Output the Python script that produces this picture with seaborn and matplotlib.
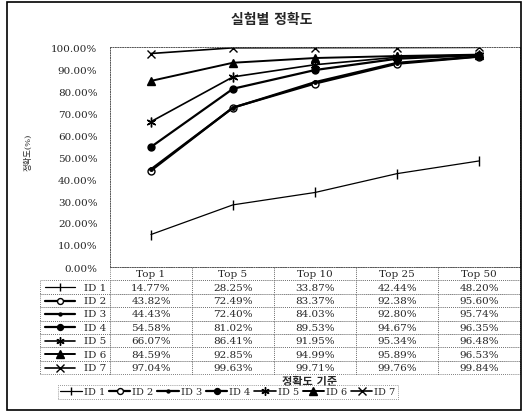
import numpy as np
import pandas as pd
import seaborn as sns
import matplotlib.pyplot as plt
from matplotlib.lines import Line2D
from matplotlib.patches import Rectangle

# chart data
categories = ["Top 1", "Top 5", "Top 10", "Top 25", "Top 50"]
series_ids = ["ID 1", "ID 2", "ID 3", "ID 4", "ID 5", "ID 6", "ID 7"]
id1 = [14.77, 28.25, 33.87, 42.44, 48.20]
id2 = [43.82, 72.49, 83.37, 92.38, 95.60]
id3 = [44.43, 72.40, 84.03, 92.80, 95.74]
id4 = [54.58, 81.02, 89.53, 94.67, 96.35]
id5 = [66.07, 86.41, 91.95, 95.34, 96.48]
id6 = [84.59, 92.85, 94.99, 95.89, 96.53]
id7 = [97.04, 99.63, 99.71, 99.76, 99.84]
values = [id1, id2, id3, id4, id5, id6, id7]

# marker style per series
styles = {
    "ID 1": dict(marker="|", ms=7, mfc="black", lw=0.9),
    "ID 2": dict(marker="o", ms=5, mfc="white", lw=1.6),
    "ID 3": dict(marker="o", ms=2.5, mfc="black", lw=1.6),
    "ID 4": dict(marker="o", ms=5, mfc="black", lw=1.6),
    "ID 5": dict(marker=(6, 2, 0), ms=7, mfc="black", lw=1.2),
    "ID 6": dict(marker="^", ms=6, mfc="black", lw=1.4),
    "ID 7": dict(marker="x", ms=6, mfc="black", lw=1.2),
}

sns.set_style("white")
plt.rcParams['font.family'] = ['DejaVu Serif', 'Noto Sans CJK KR']

fig = plt.figure(figsize=(5.26, 4.14), dpi=100)
ax = fig.add_axes([110 / 526, 1 - 268 / 414, 410 / 526, 220 / 414])

xs = np.arange(len(categories))
df = pd.DataFrame({"x": np.tile(xs, len(series_ids)),
                   "val": np.concatenate(values),
                   "id": np.repeat(series_ids, len(categories))})

for sid in series_ids:
    st = styles[sid]
    sub = df[df["id"] == sid]
    sns.lineplot(data=sub, x="x", y="val", ax=ax, color="black",
                 marker=st["marker"], markersize=st["ms"],
                 markerfacecolor=st["mfc"], markeredgecolor="black",
                 markeredgewidth=1.0, linewidth=st["lw"], label=sid,
                 legend=False)

ax.set_xlim(-0.5, len(categories) - 0.5)
ax.set_ylim(0, 100)
ax.set_yticks(np.arange(0, 101, 10))
ax.set_yticklabels([f"{v:.2f}%" for v in np.arange(0, 101, 10)], fontsize=7.5)
ax.set_xticks([])
ax.set_xlabel("")
ax.set_ylabel("")
ax.tick_params(axis="y", length=3, width=0.6, direction="out", pad=6)
for sp in ax.spines.values():
    sp.set_linestyle((0, (1, 1.5)))
    sp.set_linewidth(0.7)
    sp.set_color("#555555")

# data table under the plot (first column holds the series names)
w0 = 70 / 410
rh = 13.4 / 220
cell_text = [[sid] + [f"{v:.2f}%" for v in row] for sid, row in zip(series_ids, values)]
tbl = ax.table(cellText=cell_text, colLabels=[""] + categories,
               colWidths=[w0] + [0.2] * len(categories),
               cellLoc="center", colLoc="center",
               bbox=[-w0, -rh * 8, 1 + w0, rh * 8])
tbl.auto_set_font_size(False)
for (r, c), cell in tbl.get_celld().items():
    cell.set_fontsize(7.5)
    cell.set_linestyle((0, (1, 1.5)))
    cell.set_linewidth(0.6)
    cell.set_edgecolor("#555555")
    if c == 0:
        cell.get_text().set_horizontalalignment("right")
        cell.PAD = 0.06
    if r == 0 and c == 0:
        cell.visible_edges = ""

# small line samples in the row label cells
for i, sid in enumerate(series_ids):
    st = styles[sid]
    yc = -(i + 1.5) * rh
    ax.add_line(Line2D([-w0 + 0.012, -w0 + 0.085], [yc, yc], transform=ax.transAxes,
                       color="black", lw=st["lw"], clip_on=False))
    ax.add_line(Line2D([-w0 + 0.048], [yc], transform=ax.transAxes, color="black",
                       marker=st["marker"], markersize=st["ms"] * 0.85,
                       markerfacecolor=st["mfc"], markeredgecolor="black",
                       linestyle="none", clip_on=False))

# bottom legend
handles = [Line2D([0], [0], color="black", lw=styles[s]["lw"], marker=styles[s]["marker"],
                  markersize=styles[s]["ms"] * 0.85, markerfacecolor=styles[s]["mfc"],
                  markeredgecolor="black") for s in series_ids]
leg = fig.legend(handles, series_ids, loc="center", bbox_to_anchor=(228 / 526, 1 - 393 / 414),
                 ncol=7, fontsize=7, handlelength=2.2, handletextpad=0.2, columnspacing=0.4,
                 numpoints=1, frameon=True, fancybox=False, borderpad=0.25)
leg.get_frame().set_edgecolor("#555555")
leg.get_frame().set_linestyle((0, (1, 1.5)))
leg.get_frame().set_linewidth(0.6)

fig.text(272 / 526, 1 - 20 / 414, "실험별 정확도", ha="center", va="center",
         fontsize=10, fontweight="bold")
fig.text(310 / 526, 1 - 382 / 414, "정확도 기준", ha="center", va="center",
         fontsize=8, fontweight="bold")
fig.text(28 / 526, 1 - 152 / 414, "정확도(%)", ha="center", va="center",
         fontsize=6, rotation=90)

# outer frame
fig.patches.append(Rectangle((7 / 526, 3 / 414), 514 / 526, 408 / 414,
                             transform=fig.transFigure, fill=False,
                             edgecolor="black", linewidth=1.2))

fig.savefig("out.png", dpi=100, facecolor="white")
